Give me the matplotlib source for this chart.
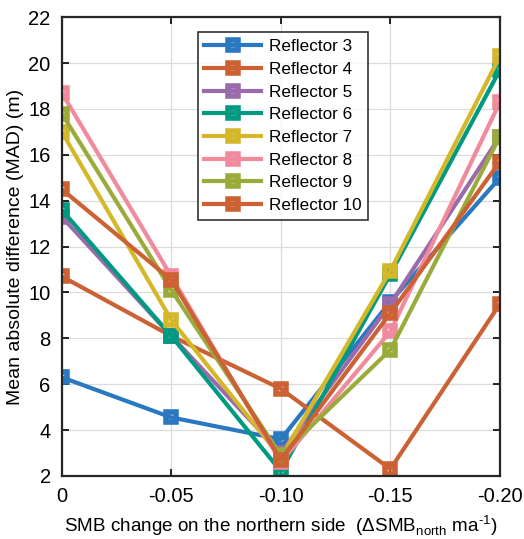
import matplotlib.pyplot as plt
import numpy as np

plt.rcParams['font.family'] = ['Liberation Sans', 'DejaVu Sans']
plt.rcParams['mathtext.fontset'] = 'custom'
plt.rcParams['mathtext.rm'] = 'Liberation Sans'

# SMB change values (x) and MAD per reflector
smb = [0, -0.05, -0.10, -0.15, -0.20]
smb_labels = ['0', '-0.05', '-0.10', '-0.15', '-0.20']

refl3 = [6.3, 4.55, 3.6, 9.6, 15.0]
refl4 = [10.7, 8.1, 5.8, 2.3, 9.5]
refl5 = [13.3, 8.1, 3.0, 9.5, 16.8]
refl6 = [13.6, 8.1, 2.2, 10.8, 19.7]
refl7 = [17.0, 8.8, 2.8, 10.95, 20.3]
refl8 = [18.7, 10.7, 2.6, 8.3, 18.3]
refl9 = [17.8, 10.1, 2.9, 7.5, 16.8]
refl10 = [14.5, 10.55, 2.7, 9.1, 15.7]

names = ['Reflector 3', 'Reflector 4', 'Reflector 5', 'Reflector 6',
         'Reflector 7', 'Reflector 8', 'Reflector 9', 'Reflector 10']
series = [refl3, refl4, refl5, refl6, refl7, refl8, refl9, refl10]
colors = ['#2a78c0', '#cc6133', '#9a6bab', '#009a82', '#d4b82a',
          '#f08a9c', '#9aab3a', '#cc6133']

fig = plt.figure(figsize=(5.24, 5.39), dpi=100)
ax = fig.add_axes([0.118, 0.117, 0.836, 0.851])

for vals, name, c in zip(series, names, colors):
    ln, = ax.plot(smb, vals, '-s', color=c, lw=3, ms=7.5, mew=4,
                  mfc='none', label=name)
    ln.set_markeredgecolor(c)

ax.set_xlim(0, -0.2)
ax.set_ylim(2, 22)
ax.set_xticks(smb)
ax.set_xticklabels(smb_labels)
ax.set_yticks(np.arange(2, 23, 2))
ax.grid(True, color='#dcdcdc', lw=0.9)
ax.set_axisbelow(True)
for s in ax.spines.values():
    s.set_linewidth(1.6)
    s.set_color('#262626')
ax.tick_params(direction='in', top=True, right=True, length=5,
               width=1.2, labelsize=14.5, pad=8)

ax.set_xlabel('SMB change on the northern side  (ΔSMB$_{\\mathregular{north}}$ ma$^{\\mathregular{\u2010 1}}$)',
              fontsize=13.6, labelpad=5)
ax.set_ylabel('Mean absolute difference (MAD) (m)', fontsize=14, labelpad=3)

leg = ax.legend(loc='upper left', bbox_to_anchor=(0.31, 0.967), fontsize=12.3,
                handlelength=3.3, frameon=True, fancybox=False,
                borderaxespad=0, borderpad=0.4, labelspacing=0.45,
                handletextpad=0.45)
leg.get_frame().set_edgecolor('black')
leg.get_frame().set_linewidth(1.2)

fig.savefig('out.png', dpi=100)
